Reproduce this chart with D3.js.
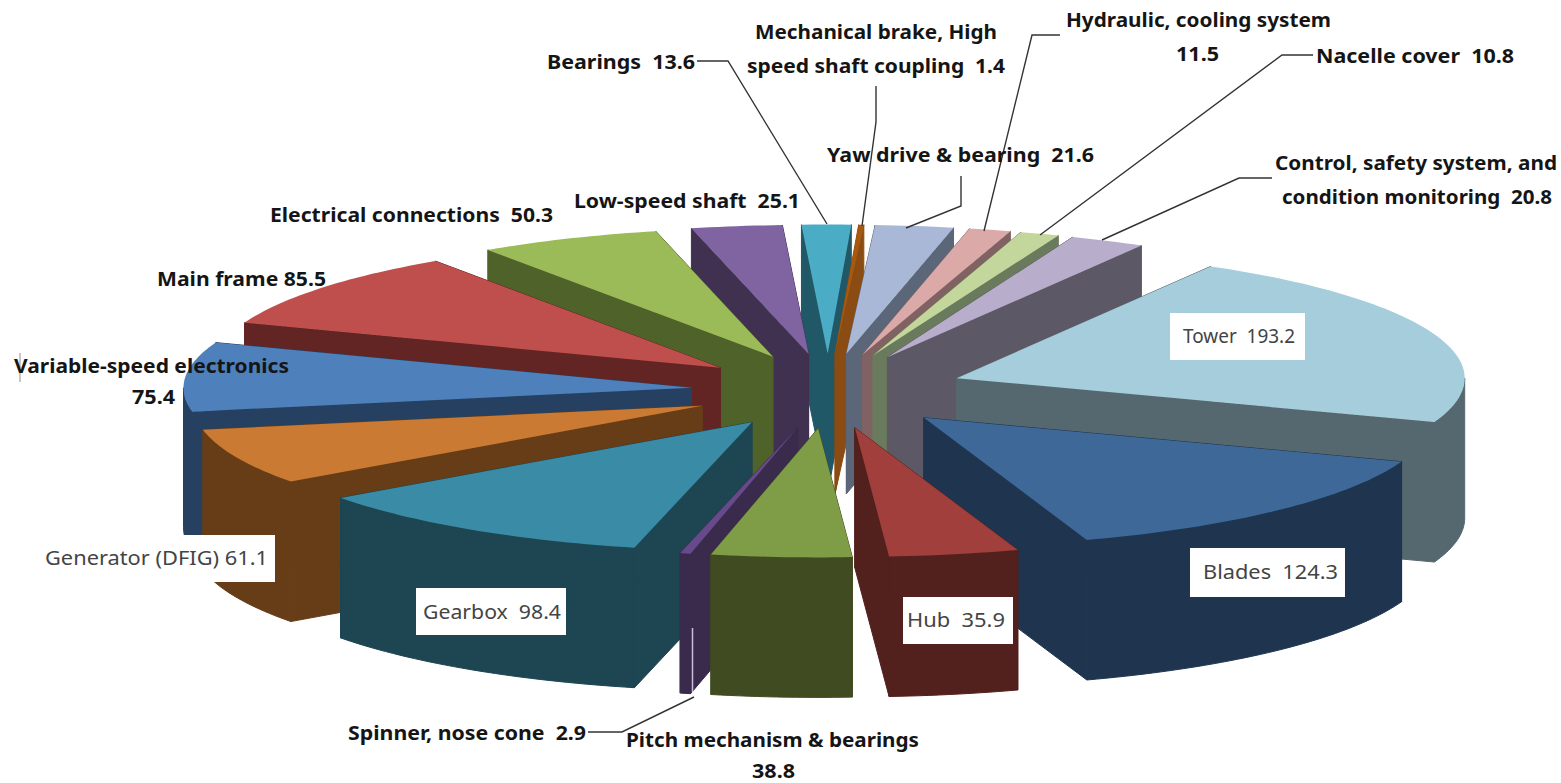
<!DOCTYPE html>
<html>
<head>
<meta charset="utf-8">
<title>Wind turbine component costs</title>
<script src="https://cdnjs.cloudflare.com/ajax/libs/d3/7.8.5/d3.min.js"></script>
<style>
  html, body { margin: 0; padding: 0; background: #fff; overflow: hidden; }
  svg { display: block; }
  text { white-space: pre; font-family: "Noto Sans", "Open Sans", sans-serif; }
</style>
</head>
<body>
<svg id="chart" width="1561" height="783"></svg>
<script>
// Component names and their values, clockwise from the first slice
const names = ["Tower", "Blades", "Hub", "Pitch mechanism & bearings", "Spinner, nose cone",
  "Gearbox", "Generator (DFIG)", "Variable-speed electronics", "Main frame",
  "Electrical connections", "Low-speed shaft", "Bearings",
  "Mechanical brake, High speed shaft coupling", "Yaw drive & bearing",
  "Hydraulic, cooling system", "Nacelle cover", "Control, safety system, and condition monitoring"];
const values = [193.2, 124.3, 35.9, 38.8, 2.9, 98.4, 61.1, 75.4, 85.5, 50.3, 25.1, 13.6, 1.4, 21.6, 11.5, 10.8, 20.8];
const topColors = ["#a6cddc", "#3e6897", "#a03f3b", "#7f9d47", "#674a8c", "#3a8ba6", "#cb7a33", "#4e80bc",
  "#bf4f4c", "#9bbb59", "#8064a2", "#4bacc6", "#a8590f", "#a9b8d7", "#dba9a8", "#c3d69b", "#b8adca"];
const wallColors = ["#55686f", "#1f354f", "#52201d", "#404b22", "#3a2b4d", "#1d4652", "#673d18", "#264061",
  "#632524", "#4f6229", "#403151", "#205867", "#8a4c12", "#5b6678", "#806262", "#6a7a5c", "#5d5866"];

// Projection of the tilted, exploded pie
const centerX = 828, centerY = 391;
const explodeX = 137, explodeY = 37.5, rimX = 508, rimY = 129, depth = 140;
const startDeg = 30;

// Label placement: x extent and vertical centre of every line, optional white plate
const labelLayout = [
  { lines: [[1183, 1295, 336]], plate: [1170, 313, 135, 47], plain: true },
  { lines: [[1203, 1338, 572]], plate: [1190, 548, 155, 49], plain: true },
  { lines: [[907, 1005, 620]], plate: [903, 597, 110, 47], plain: true },
  { lines: [[626, 919, 740], [752, 795, 771]], breakBefore: "38.8" },
  { lines: [[348, 586, 733]] },
  { lines: [[423, 561, 612]], plate: [416, 588, 150, 47], plain: true },
  { lines: [[45, 268, 558]], plate: [35, 535, 240, 47], plain: true, single: true },
  { lines: [[14, 289, 366], [132, 175, 397]], breakBefore: "75.4" },
  { lines: [[157, 326, 279]], single: true },
  { lines: [[270, 553, 215]] },
  { lines: [[574, 800, 201]] },
  { lines: [[547, 695, 62]] },
  { lines: [[755, 997, 32], [747, 1005, 66]], breakBefore: "speed" },
  { lines: [[827, 1094, 155]] },
  { lines: [[1066, 1331, 20], [1176, 1219, 54]], breakBefore: "11.5" },
  { lines: [[1316, 1514, 56]] },
  { lines: [[1275, 1557, 163], [1282, 1552, 197]], breakBefore: "condition" }
];

// Leader lines from label to slice rim, listed by slice index
const leaders = [
  { slice: 11, path: [[697, 61], [728, 61], [827, 224]] },
  { slice: 12, path: [[876, 86], [876, 122], [862, 226]] },
  { slice: 13, path: [[961, 176], [961, 206], [906, 228]] },
  { slice: 14, path: [[1060, 35], [1032, 35], [984, 231]] },
  { slice: 15, path: [[1313, 55], [1282, 55], [1040, 235]] },
  { slice: 16, path: [[1272, 178], [1239, 178], [1102, 240]] },
  { slice: 4, path: [[588, 732], [622, 732], [694, 697]] }
];

// Small stray strokes: a grey tick beside the first label and a pale seam on the spinner wall
const strayMarks = [
  { path: [[20, 353], [20, 382]], color: "#b5b5b5", width: 1.5 },
  { path: [[692.5, 628], [692.5, 692]], color: "#c9bfd8", width: 1.5 }
];

const svg = d3.select("#chart");
const toRad = d3.scaleLinear().domain([0, 360]).range([0, 2 * Math.PI]);
const pie = d3.pie().sort(null).startAngle(toRad(startDeg)).endAngle(toRad(startDeg + 360));
const slices = pie(values).map((d, i) => {
  const mid = (d.startAngle + d.endAngle) / 2;
  return {
    ...d, i, mid,
    ax: centerX + explodeX * Math.sin(mid),
    ay: centerY - explodeY * Math.cos(mid)
  };
});

const line = d3.line();
const rimPoint = (s, a, drop = 0) => [s.ax + rimX * Math.sin(a), s.ay - rimY * Math.cos(a) + drop];
const arcSamples = (a0, a1) => {
  const n = Math.max(2, Math.ceil(Math.abs(a1 - a0) / 0.02));
  return d3.range(n + 1).map(k => a0 + (a1 - a0) * k / n);
};

// Back slices first so nearer slices overlap them
const order = slices.slice().sort((p, q) => p.ay - q.ay);
const solids = svg.append("g").selectAll("g").data(order).join("g");

solids.each(function (s) {
  const g = d3.select(this);
  const wall = wallColors[s.i], face = topColors[s.i];
  // Two radial cut faces
  [s.startAngle, s.endAngle].forEach(a => {
    g.append("path").attr("fill", wall).attr("stroke", wall).attr("stroke-width", 1)
      .attr("d", line([[s.ax, s.ay], rimPoint(s, a), rimPoint(s, a, depth), [s.ax, s.ay + depth]]) + "Z");
  });
  // Outer curved wall on the part of the rim that faces the viewer
  const lo = Math.max(s.startAngle, Math.PI / 2), hi = Math.min(s.endAngle, 3 * Math.PI / 2);
  const lo2 = Math.max(s.startAngle, 5 * Math.PI / 2), hi2 = Math.min(s.endAngle, 7 * Math.PI / 2);
  [[lo, hi], [lo2, hi2]].forEach(([a0, a1]) => {
    if (a1 <= a0) return;
    const angles = arcSamples(a0, a1);
    const pts = angles.map(a => rimPoint(s, a)).concat(angles.slice().reverse().map(a => rimPoint(s, a, depth)));
    g.append("path").attr("fill", wall).attr("stroke", wall).attr("stroke-width", 1).attr("d", line(pts) + "Z");
  });
  // Top face
  const top = [[s.ax, s.ay]].concat(arcSamples(s.startAngle, s.endAngle).map(a => rimPoint(s, a)));
  g.append("path").attr("fill", face).attr("d", line(top) + "Z");
});

// Leader lines
svg.append("g").selectAll("path").data(leaders).join("path")
  .attr("fill", "none").attr("stroke", "#333").attr("stroke-width", 1.4)
  .attr("d", d => line(d.path));

svg.append("g").selectAll("path").data(strayMarks).join("path")
  .attr("fill", "none").attr("stroke", d => d.color).attr("stroke-width", d => d.width)
  .attr("d", d => line(d.path));

// Labels built from the component names and values
const labelText = i => {
  const layout = labelLayout[i];
  const full = names[i] + (layout.single ? " " : "  ") + values[i].toFixed(1);
  if (!layout.breakBefore) return [full];
  const at = full.indexOf(layout.breakBefore);
  return [full.slice(0, at).trim(), full.slice(at)];
};

const labels = svg.append("g").selectAll("g").data(labelLayout).join("g");
labels.filter(d => d.plate).append("rect")
  .attr("x", d => d.plate[0]).attr("y", d => d.plate[1])
  .attr("width", d => d.plate[2]).attr("height", d => d.plate[3]).attr("fill", "#fff");
labels.each(function (d, i) {
  const parts = labelText(i);
  d3.select(this).selectAll("text").data(d.lines).join("text")
    .attr("x", l => l[0]).attr("y", l => l[2] + 6.5)
    .attr("textLength", l => l[1] - l[0]).attr("lengthAdjust", "spacingAndGlyphs")
    .attr("font-size", 19).attr("font-weight", d.plain ? 400 : 700)
    .attr("fill", d.plain ? "#444" : "#151515")
    .text((l, k) => parts[k]);
});
</script>
</body>
</html>
